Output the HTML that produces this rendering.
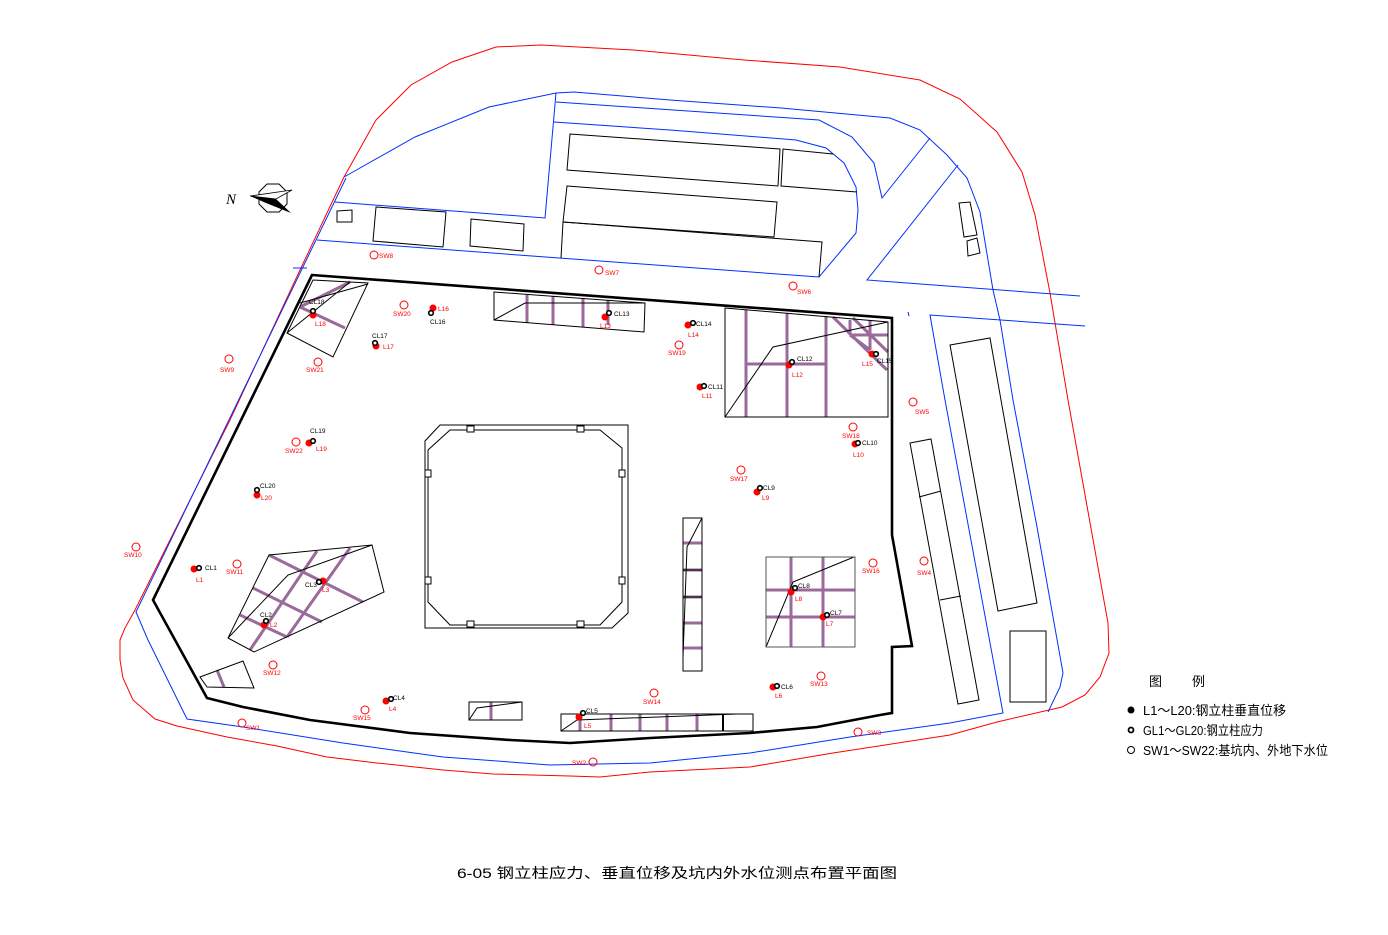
<!DOCTYPE html>
<html><head><meta charset="utf-8"><style>
html,body{margin:0;padding:0;background:#fff;}
svg{display:block;}
.lb{font-family:"Liberation Sans",sans-serif;font-size:6.5px;}
.r{fill:#f00;}
.k{fill:#000;}
</style></head><body>
<svg width="1388" height="935" viewBox="0 0 1388 935" xmlns="http://www.w3.org/2000/svg">
<rect width="1388" height="935" fill="#fff"/>
<!-- red outer boundary -->
<path d="M120,660 L120,640 L125,628 L135,610 L230,420 L300,270 L344,177 L376,120 L411,85 L452,62 L496,47 L541,45 L633,50 L744,60 L840,67 L920,80 L960,99 L997,132 L1022,172 L1035,215 L1050,293 L1068,400 L1108,623 L1109,653 L1100,677 L1085,695 L1062,707 L997,722 L950,735 L833,753 L750,767 L650,772 L600,777 L570,776 L493,774 L443,770 L377,763 L327,757 L277,746 L227,737 L177,726 L155,719 L133,700 L123,678 Z" fill="none" stroke="#f00" stroke-width="1"/>
<!-- blue lines -->
<g fill="none" stroke="#0030ff" stroke-width="1">
<path d="M344,177 L415,137 L489,107 L556,93 L574,92 L670,100 L781,108 L890,118 L920,130 L947,155 L967,178 L980,212 L993,290 L1000,320 L1013,400 L1037,527 L1063,673 L1060,687 L1048,712"/>
<path d="M346,178 L136,612 L148,640 L187,719 L243,727 L343,743 L443,757 L550,765 L650,763 L750,753 L850,737 L950,723 L1003,713 L945,400 L930,315 L1085,326"/>
<path d="M335,202 L545,218 L556,93"/>
<path d="M317,240 L559,258 L819,277 L856,233 L858,210 L856,187 L844,163 L826,148 L796,140 L670,130 L554,122"/>
<path d="M556,102 L819,120 L852,137 L874,163 L882,198 L930,138"/>
<path d="M958,165 L867,280 L1080,296"/>
<path d="M908,312 L909,316"/>
<path d="M293,268 L307,268"/>
</g>
<!-- buildings -->
<g fill="none" stroke="#000" stroke-width="1">
<path d="M337,211 L352,210 L352,222 L337,222 Z"/>
<path d="M376,207 L446,212 L443,247 L373,241 Z"/>
<path d="M471,219 L524,224 L523,251 L470,246 Z"/>
<path d="M570,134 L780,149 L778,186 L567,170 Z"/>
<path d="M833,154 L783,149 L781,186 L857,192"/>
<path d="M567,186 L777,202 L774,237 L563,222 Z"/>
<path d="M563,222 L561,258 M563,222 L822,242 L819,277"/>
<path d="M959,203 L970,202 L977,235 L964,237 Z"/>
<path d="M967,241 L977,238 L980,253 L968,256 Z"/>
<path d="M950,345 L990,338 L1037,603 L998,611 Z"/>
<path d="M910,443 L931,439 L979,700 L958,704 Z M919,497 L941,491 M940,600 L961,596"/>
<rect x="1010" y="631" width="36" height="71"/>
</g>
<!-- pit boundary -->
<path d="M312,275 L892,318 L892,535 L912,646 L892,647 L892,713 L880,715 L817,727 L750,733 L650,738 L570,743 L510,740 L410,733 L310,720 L243,707 L207,698 L153,600 Z" fill="none" stroke="#000" stroke-width="2.6"/>
<!-- purple bracing -->
<g stroke="#9a6a9a" stroke-width="3" fill="none">
<path d="M300,307 L350,282 M300,307 L345,328"/>
<path d="M527,295 L527,323 M553,296 L553,325 M583,298 L583,327 M608,300 L608,325"/>
<path d="M746,310 L746,417 M787,313 L787,417 M826,316 L826,417 M746,364 L826,364"/>
<path d="M833,317 L887,370 M853,318 L888,352 M850,320 L850,335 M870,320 L870,350 M850,335 L870,350 M850,335 L888,335"/>
<path d="M683,543 L702,543 M683,570 L702,570 M683,597 L702,597 M683,623 L702,623 M683,648 L702,648"/>
<path d="M791,557 L791,647 M823,557 L823,647 M766,590 L855,590 M766,617 L855,617"/>
<path d="M269,555 L363,602 M253,588 L322,622 M240,615 L287,637 M317,551 L250,650 M350,548 L287,637"/>
<path d="M217,670 L224,687"/>
<path d="M491,702 L491,720"/>
<path d="M580,714 L580,731 M611,714 L611,731 M640,714 L640,731 M667,714 L667,731 M697,714 L697,731"/>
</g>
<!-- panels outlines -->
<g fill="none" stroke="#000" stroke-width="1">
<path d="M313,280 L368,283 L333,357 L287,333 Z M287,333 L350,282 M300,303 L368,284"/>
<path d="M494,292 L645,303 L644,332 L494,320 Z M494,320 L525,303 L645,303"/>
<path d="M725,308 L888,322 L888,417 L725,417 Z M725,417 L773,347 L888,322"/>
<path d="M683,518 L702,518 L702,671 L683,671 Z M702,518 L687,547 L683,657 M683,570 L702,570 M683,597 L702,597"/>
<path d="M766,647 L793,582 L854,557"/>
<path d="M269,555 L372,545 L384,592 L254,652 L228,638 Z M228,638 L288,575 L372,545"/>
<path d="M200,677 L243,661 L254,688 L207,687 Z"/>
<path d="M469,702 L522,702 L522,720 L469,720 Z M469,720 L477,708 L522,702"/>
<path d="M561,714 L753,714 L753,731 L561,731 Z M561,731 L577,720 L737,714"/>
<path d="M723,714 L723,731" stroke-width="2"/>
</g>
<rect x="766" y="557" width="89" height="90" fill="none" stroke="#555" stroke-width="1"/>
<!-- central shaft -->
<g fill="none" stroke="#000" stroke-width="1">
<path d="M440,425 L628,425 L628,613 L612,628 L425,628 L425,441 Z"/>
<path d="M450,430 L600,430 L622,448 L622,602 L600,625 L450,625 L428,602 L428,450 Z"/>
</g>
<g fill="#fff" stroke="#000" stroke-width="1">
<rect x="467" y="426" width="7" height="6"/><rect x="577" y="426" width="7" height="6"/>
<rect x="467" y="621" width="7" height="6"/><rect x="577" y="621" width="7" height="6"/>
<rect x="425" y="470" width="6" height="7"/><rect x="425" y="577" width="6" height="7"/>
<rect x="619" y="470" width="6" height="7"/><rect x="619" y="577" width="6" height="7"/>
</g>
<!-- compass -->
<text x="226" y="204" font-family="Liberation Serif,serif" font-style="italic" font-size="15">N</text>
<polygon points="267,184 279,184 287,192 287,204 279,212 267,212 259,204 259,192" fill="none" stroke="#000" stroke-width="1"/>
<polygon points="250,196 292,190 276,199" fill="#fff" stroke="#000" stroke-width="0.8"/>
<polygon points="250,196 276,199 291,213 266,203" fill="#000"/>
<!-- SW circles -->
<g fill="none" stroke="#f00" stroke-width="1">
<circle cx="374" cy="255" r="4"/><circle cx="599" cy="270" r="4"/><circle cx="793" cy="286" r="4"/>
<circle cx="404" cy="305" r="4"/><circle cx="318" cy="362" r="4"/><circle cx="229" cy="359" r="4"/>
<circle cx="679" cy="345" r="4"/><circle cx="913" cy="402" r="4"/><circle cx="853" cy="427" r="4"/>
<circle cx="296" cy="442" r="4"/><circle cx="741" cy="470" r="4"/><circle cx="136" cy="547" r="4"/>
<circle cx="237" cy="564" r="4"/><circle cx="873" cy="563" r="4"/><circle cx="924" cy="561" r="4"/>
<circle cx="273" cy="665" r="4"/><circle cx="821" cy="676" r="4"/><circle cx="654" cy="693" r="4"/>
<circle cx="365" cy="710" r="4"/><circle cx="242" cy="723" r="4"/><circle cx="858" cy="732" r="4"/>
<circle cx="593" cy="762" r="4"/>
</g>
<g class="lb r">
<text x="379" y="258">SW8</text><text x="605" y="275">SW7</text><text x="797" y="294">SW6</text>
<text x="393" y="316">SW20</text><text x="306" y="372">SW21</text><text x="220" y="372">SW9</text>
<text x="668" y="355">SW19</text><text x="915" y="414">SW5</text><text x="842" y="438">SW18</text>
<text x="285" y="453">SW22</text><text x="730" y="481">SW17</text><text x="124" y="557">SW10</text>
<text x="226" y="574">SW11</text><text x="862" y="573">SW16</text><text x="917" y="575">SW4</text>
<text x="263" y="675">SW12</text><text x="810" y="686">SW13</text><text x="643" y="704">SW14</text>
<text x="353" y="720">SW15</text><text x="246" y="730">SW1</text><text x="867" y="735">SW3</text>
<text x="572" y="765">SW2</text>
</g>
<!-- L markers (red) -->
<g fill="#f00">
<circle cx="313" cy="315" r="3.5"/><circle cx="433" cy="308" r="3.5"/><circle cx="376" cy="346" r="3.5"/>
<circle cx="605" cy="317" r="3.5"/><circle cx="688" cy="325" r="3.5"/><circle cx="700" cy="387" r="3.5"/>
<circle cx="789" cy="365" r="3.5"/><circle cx="872" cy="354" r="3.5"/><circle cx="855" cy="444" r="3.5"/>
<circle cx="309" cy="443" r="3.5"/><circle cx="257" cy="495" r="3.5"/><circle cx="194" cy="569" r="3.5"/>
<circle cx="323" cy="581" r="3.5"/><circle cx="264" cy="625" r="3.5"/><circle cx="757" cy="492" r="3.5"/>
<circle cx="791" cy="592" r="3.5"/><circle cx="823" cy="617" r="3.5"/><circle cx="773" cy="687" r="3.5"/>
<circle cx="579" cy="717" r="3.5"/><circle cx="386" cy="701" r="3.5"/>
</g>
<!-- CL markers -->
<g fill="#fff" stroke="#000" stroke-width="1.6">
<circle cx="313" cy="311" r="2.3"/><circle cx="431" cy="313" r="2.3"/><circle cx="375" cy="343" r="2.3"/>
<circle cx="609" cy="313" r="2.3"/><circle cx="693" cy="323" r="2.3"/><circle cx="704" cy="386" r="2.3"/>
<circle cx="792" cy="362" r="2.3"/><circle cx="876" cy="354" r="2.3"/><circle cx="858" cy="443" r="2.3"/>
<circle cx="313" cy="441" r="2.3"/><circle cx="257" cy="490" r="2.3"/><circle cx="199" cy="568" r="2.3"/>
<circle cx="319" cy="582" r="2.3"/><circle cx="266" cy="621" r="2.3"/><circle cx="760" cy="488" r="2.3"/>
<circle cx="795" cy="588" r="2.3"/><circle cx="827" cy="615" r="2.3"/><circle cx="777" cy="686" r="2.3"/>
<circle cx="583" cy="713" r="2.3"/><circle cx="391" cy="699" r="2.3"/>
</g>
<g class="lb k">
<text x="309" y="304">CL18</text><text x="430" y="324">CL16</text><text x="372" y="338">CL17</text>
<text x="614" y="316">CL13</text><text x="696" y="326">CL14</text><text x="708" y="389">CL11</text>
<text x="797" y="361">CL12</text><text x="877" y="363">CL15</text><text x="862" y="445">CL10</text>
<text x="310" y="433">CL19</text><text x="260" y="488">CL20</text><text x="205" y="570">CL1</text>
<text x="305" y="587">CL3</text><text x="260" y="617">CL2</text><text x="763" y="490">CL9</text>
<text x="798" y="588">CL8</text><text x="830" y="615">CL7</text><text x="781" y="689">CL6</text>
<text x="586" y="713">CL5</text><text x="393" y="700">CL4</text>
</g>
<g class="lb r">
<text x="315" y="326">L18</text><text x="438" y="311">L16</text><text x="383" y="349">L17</text>
<text x="600" y="328">L13</text><text x="688" y="337">L14</text><text x="702" y="398">L11</text>
<text x="792" y="377">L12</text><text x="862" y="366">L15</text><text x="853" y="457">L10</text>
<text x="316" y="451">L19</text><text x="261" y="500">L20</text><text x="196" y="582">L1</text>
<text x="322" y="592">L3</text><text x="270" y="627">L2</text><text x="762" y="500">L9</text>
<text x="795" y="601">L8</text><text x="826" y="626">L7</text><text x="775" y="698">L6</text>
<text x="584" y="728">L5</text><text x="389" y="711">L4</text>
</g>
<!-- legend -->
<g font-family="'Liberation Sans','Noto Sans CJK SC',sans-serif" font-size="13" fill="#000">
<text x="1149" y="686">图</text><text x="1192" y="686">例</text>
<circle cx="1131" cy="710" r="3.5" fill="#000"/>
<text x="1143" y="715" textLength="143" lengthAdjust="spacingAndGlyphs">L1～L20:钢立柱垂直位移</text>
<circle cx="1131" cy="730" r="2.5" fill="#fff" stroke="#000" stroke-width="1.8"/>
<text x="1143" y="735" textLength="120" lengthAdjust="spacingAndGlyphs">GL1～GL20:钢立柱应力</text>
<circle cx="1131" cy="750" r="3.5" fill="none" stroke="#000" stroke-width="1"/>
<text x="1143" y="755" textLength="185" lengthAdjust="spacingAndGlyphs">SW1～SW22:基坑内、外地下水位</text>
</g>
<!-- title -->
<text x="457" y="878" font-family="'Liberation Sans','Noto Sans CJK SC',sans-serif" font-size="14" fill="#000" textLength="440" lengthAdjust="spacingAndGlyphs">6-05 钢立柱应力、垂直位移及坑内外水位测点布置平面图</text>
</svg>
</body></html>
